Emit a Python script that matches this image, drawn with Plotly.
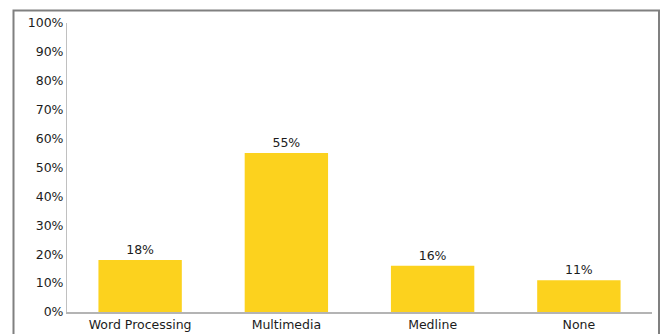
import plotly.graph_objects as go

categories = ["Word Processing", "Multimedia", "Medline", "None"]
values = [18, 55, 16, 11]
y_ticks = [0, 10, 20, 30, 40, 50, 60, 70, 80, 90, 100]
y_tick_labels = [f"{v}%" for v in y_ticks]
value_labels = [f"{v}%" for v in values]

W, H = 660, 334
L, R, T, B = 67, 8, 23, 22
plot_w = W - L - R
plot_h = H - T - B

TEXT = "#1c1c1c"

fig = go.Figure(
    go.Bar(
        x=categories,
        y=values,
        text=value_labels,
        textposition="outside",
        textfont=dict(family="DejaVu Sans", size=12.5, color=TEXT),
        marker=dict(color="#FCD21E", line=dict(width=0)),
        cliponaxis=False,
        width=0.57,
    )
)

# outer frame around the whole chart (in paper coordinates relative to the plot area)
def px_x(p):
    return (p - L) / plot_w

def px_y(p):
    return (H - B - p) / plot_h

fig.add_shape(
    type="rect", xref="paper", yref="paper",
    x0=px_x(13.5), x1=px_x(659), y0=px_y(H + 10), y1=px_y(10.5),
    line=dict(color="#808080", width=2), fillcolor="rgba(0,0,0,0)", layer="below",
)

fig.update_layout(
    width=W, height=H,
    margin=dict(l=L, r=R, t=T, b=B, pad=0, autoexpand=False),
    paper_bgcolor="white",
    plot_bgcolor="white",
    showlegend=False,
    font=dict(family="DejaVu Sans", size=12.5, color=TEXT),
    xaxis=dict(
        showgrid=False, zeroline=False, automargin=False,
        showline=True, linecolor="#b4b4b4", linewidth=2,
        ticks="", tickfont=dict(size=12.5, color=TEXT),
        range=[-0.5, 3.5],
    ),
    yaxis=dict(
        range=[0, 100], tickvals=y_ticks, ticktext=y_tick_labels,
        showgrid=False, zeroline=False, automargin=False,
        showline=True, linecolor="#c0c0c0", linewidth=1,
        ticks="", tickfont=dict(size=12.5, color=TEXT),
    ),
)

fig.write_html("out.html")
